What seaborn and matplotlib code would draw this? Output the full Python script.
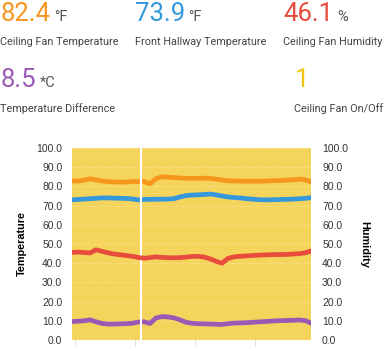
import numpy as np
import pandas as pd
import matplotlib
matplotlib.use("Agg")
import matplotlib.pyplot as plt
import seaborn as sns

# time axis (hours) and readings taken off the chart
hours = np.round(np.arange(-0.05, 3.96, 0.1), 2)
fan_temp = [82.8, 82.8, 83.2, 84.0, 83.4, 82.8, 82.5, 82.3, 82.3, 82.2,
            82.6, 82.5, 82.6, 81.3, 84.0, 85.0, 84.8, 84.6, 84.4, 84.2,
            84.2, 84.2, 84.3, 84.2, 83.8, 83.3, 82.9, 82.8, 82.8, 82.7,
            82.7, 82.7, 82.8, 82.9, 83.0, 83.1, 83.3, 83.5, 83.8, 83.3, 82.2]
hall_temp = [73.0, 73.2, 73.4, 73.6, 73.8, 74.0, 74.0, 73.9, 73.8, 73.7,
             73.5, 73.0, 73.2, 73.3, 73.3, 73.3, 73.4, 73.6, 74.5, 75.2,
             75.5, 75.6, 75.8, 76.0, 75.6, 75.0, 74.5, 74.2, 74.0, 73.6,
             73.4, 73.1, 73.0, 73.0, 73.1, 73.2, 73.3, 73.4, 73.6, 73.8, 74.2]
fan_humidity = [45.6, 45.8, 45.6, 45.3, 47.0, 46.2, 45.4, 44.8, 44.4, 44.0,
                43.6, 43.0, 42.6, 42.9, 43.3, 43.0, 42.9, 42.8, 42.9, 43.2,
                43.5, 43.6, 43.2, 42.3, 41.0, 40.0, 42.5, 43.3, 43.6, 43.8,
                44.0, 44.2, 44.3, 44.4, 44.5, 44.5, 44.6, 44.8, 45.0, 45.5, 46.6]
temp_diff = [9.6, 9.8, 10.0, 10.5, 9.5, 8.6, 8.3, 8.3, 8.4, 8.5,
             8.7, 9.3, 9.5, 8.6, 11.5, 12.2, 12.0, 11.5, 10.5, 9.2,
             8.7, 8.5, 8.4, 8.3, 8.2, 8.1, 8.5, 8.8, 8.9, 9.0,
             9.2, 9.4, 9.6, 9.8, 10.0, 10.1, 10.2, 10.3, 10.4, 10.0, 8.5]
cursor_hour = 1.1
y_ticks = [0, 10, 20, 30, 40, 50, 60, 70, 80, 90, 100]
x_ticks = [0, 1, 2, 3]

# summary tiles
tiles = [
    ("82.4", "°F", "Ceiling Fan Temperature"),
    ("73.9", "°F", "Front Hallway Temperature"),
    ("46.1", "%", "Ceiling Fan Humidity"),
    ("8.5", "*C", "Temperature Difference"),
    ("1", "", "Ceiling Fan On/Off"),
]

orange = "#f7961c"
blue = "#3498db"
red = "#e74c3c"
purple = "#9b59b6"
yellow = "#f1c40f"
tile_colors = [orange, blue, red, purple, yellow]

temps = pd.DataFrame({
    "hours": np.tile(hours, 3),
    "value": fan_temp + hall_temp + temp_diff,
    "series": ["fan"] * len(hours) + ["hall"] * len(hours) + ["diff"] * len(hours),
})

W, H = 385, 351
fig = plt.figure(figsize=(W / 100, H / 100), dpi=100)

# tiles across the top
tile_pos = [(1, 21, 42), (135, 21, 42), (283, 21, 42), (1, 87, 109), (295, 87, 109)]
unit_x = [54, 188, 337, 40, None]
for (val, unit, label), (x, yb, yl), ux, c in zip(tiles, tile_pos, unit_x, tile_colors):
    fig.text(x / W, 1 - yb / H, val, color=c, fontsize=18.5, family="Roboto",
             va="baseline", ha="left")
    if unit:
        fig.text(ux / W, 1 - yb / H, unit, color="#555555", fontsize=10.5,
                 family="Roboto", va="baseline", ha="left")
    lx = 0 if x < 10 else (294 if x == 295 else x)
    fig.text(lx / W, 1 - yl / H, label, color="#444444", fontsize=7.8,
             family="Roboto", va="center", ha="left")

ax = fig.add_axes([72 / W, 1 - 340 / H, 239 / W, 192 / H])
ax.set_facecolor("#f5d45c")
sns.lineplot(data=temps, x="hours", y="value", hue="series",
             palette={"fan": orange, "hall": blue, "diff": purple},
             linewidth=3.4, legend=False, ax=ax)
ax.axvline(cursor_hour, color="white", linewidth=1.5, zorder=5)

ax2 = ax.twinx()
sns.lineplot(x=hours, y=fan_humidity, color=red, linewidth=3.4, ax=ax2)

for a in (ax, ax2):
    a.set_xlim(-0.05, 3.933)
    a.set_ylim(0, 100)
    a.set_yticks(y_ticks)
    a.set_yticklabels([f"{t:.1f}" for t in y_ticks], family="Liberation Sans",
                      fontsize=7.5, color="#333333")
    for s in a.spines.values():
        s.set_visible(False)

ax.yaxis.grid(True, color="#ffffff", alpha=0.25, linestyle="--", linewidth=0.7)
ax.xaxis.grid(False)
ax.set_axisbelow(True)
ax.set_xticks(x_ticks)
ax.set_xticklabels([])
ax.tick_params(axis="x", length=4, color="#dddddd", width=0.7)
ax.tick_params(axis="y", length=0, pad=7)
ax2.tick_params(axis="y", length=0, pad=8)
ax.set_xlabel("")
ax.set_ylabel("Temperature", family="Liberation Sans", fontweight="bold",
              fontsize=7.8, labelpad=7)
ax2.set_ylabel("Humidity", family="Liberation Sans", fontweight="bold",
               fontsize=7.8, rotation=270, labelpad=15)

fig.savefig("out.png", dpi=100)
